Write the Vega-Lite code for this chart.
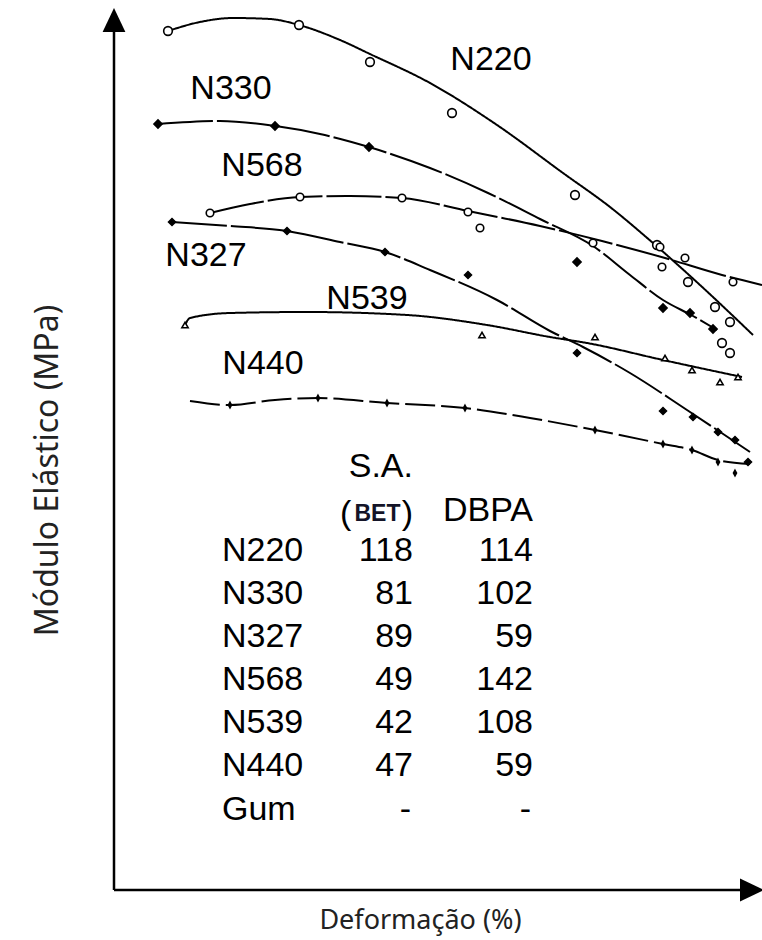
{
  "$schema": "https://vega.github.io/schema/vega-lite/v6.json",
  "width": 640,
  "height": 882,
  "autosize": "none",
  "padding": {"left": 114, "top": 8, "right": 8, "bottom": 50},
  "background": "white",
  "config": {"view": {"stroke": null}, "font": "Liberation Sans"},
  "resolve": {"scale": {"shape": "independent", "size": "independent", "fill": "independent", "strokeDash": "independent"}},
  "datasets": {
    "eixos": [
      {"deformacao": 0, "modulo": 0, "deformacao2": 0, "modulo2": 85.8},
      {"deformacao": 0, "modulo": 0, "deformacao2": 62.8, "modulo2": 0}
    ],
    "setas": [
      {"deformacao": 0, "modulo": 87, "direcao": "cima"},
      {"deformacao": 63.8, "modulo": 0, "direcao": "direita"}
    ],
    "curvas": [
      {"serie": "N220", "deformacao": 5.4, "modulo": 85.9},
      {"serie": "N220", "deformacao": 8.6, "modulo": 86.8},
      {"serie": "N220", "deformacao": 11.9, "modulo": 87.2},
      {"serie": "N220", "deformacao": 15.6, "modulo": 87.1},
      {"serie": "N220", "deformacao": 18.5, "modulo": 86.5},
      {"serie": "N220", "deformacao": 22.6, "modulo": 85.0},
      {"serie": "N220", "deformacao": 25.6, "modulo": 83.6},
      {"serie": "N220", "deformacao": 31.6, "modulo": 80.7},
      {"serie": "N220", "deformacao": 38.3, "modulo": 76.5},
      {"serie": "N220", "deformacao": 44.9, "modulo": 71.7},
      {"serie": "N220", "deformacao": 49.6, "modulo": 68.3},
      {"serie": "N220", "deformacao": 53.9, "modulo": 64.7},
      {"serie": "N220", "deformacao": 58.6, "modulo": 60.5},
      {"serie": "N220", "deformacao": 63.9, "modulo": 55.5},
      {"serie": "N330", "deformacao": 4.4, "modulo": 76.6},
      {"serie": "N330", "deformacao": 10.6, "modulo": 76.9},
      {"serie": "N330", "deformacao": 16.1, "modulo": 76.4},
      {"serie": "N330", "deformacao": 20.6, "modulo": 75.6},
      {"serie": "N330", "deformacao": 25.5, "modulo": 74.3},
      {"serie": "N330", "deformacao": 31.6, "modulo": 72.2},
      {"serie": "N330", "deformacao": 37.4, "modulo": 69.7},
      {"serie": "N330", "deformacao": 42.6, "modulo": 67.1},
      {"serie": "N330", "deformacao": 47.9, "modulo": 64.4},
      {"serie": "N330", "deformacao": 51.6, "modulo": 61.5},
      {"serie": "N330", "deformacao": 54.9, "modulo": 59.0},
      {"serie": "N330", "deformacao": 57.9, "modulo": 57.4},
      {"serie": "N330", "deformacao": 60.3, "modulo": 56.0},
      {"serie": "N568", "deformacao": 9.6, "modulo": 67.7},
      {"serie": "N568", "deformacao": 13.6, "modulo": 68.6},
      {"serie": "N568", "deformacao": 18.6, "modulo": 69.3},
      {"serie": "N568", "deformacao": 23.6, "modulo": 69.4},
      {"serie": "N568", "deformacao": 28.8, "modulo": 69.2},
      {"serie": "N568", "deformacao": 35.4, "modulo": 67.9},
      {"serie": "N568", "deformacao": 42.6, "modulo": 66.4},
      {"serie": "N568", "deformacao": 48.8, "modulo": 64.9},
      {"serie": "N568", "deformacao": 55.1, "modulo": 63.2},
      {"serie": "N568", "deformacao": 60.8, "modulo": 61.5},
      {"serie": "N568", "deformacao": 64.8, "modulo": 60.5},
      {"serie": "N327", "deformacao": 5.8, "modulo": 66.8},
      {"serie": "N327", "deformacao": 11.6, "modulo": 66.4},
      {"serie": "N327", "deformacao": 17.3, "modulo": 65.9},
      {"serie": "N327", "deformacao": 22.6, "modulo": 64.8},
      {"serie": "N327", "deformacao": 27.1, "modulo": 63.8},
      {"serie": "N327", "deformacao": 31.6, "modulo": 62.0},
      {"serie": "N327", "deformacao": 38.3, "modulo": 59.0},
      {"serie": "N327", "deformacao": 43.6, "modulo": 55.9},
      {"serie": "N327", "deformacao": 46.9, "modulo": 54.3},
      {"serie": "N327", "deformacao": 51.6, "modulo": 51.7},
      {"serie": "N327", "deformacao": 57.3, "modulo": 48.0},
      {"serie": "N327", "deformacao": 63.6, "modulo": 43.8},
      {"serie": "N539", "deformacao": 7.1, "modulo": 56.5},
      {"serie": "N539", "deformacao": 7.6, "modulo": 57.2},
      {"serie": "N539", "deformacao": 11.6, "modulo": 57.7},
      {"serie": "N539", "deformacao": 19.3, "modulo": 57.8},
      {"serie": "N539", "deformacao": 29.3, "modulo": 57.5},
      {"serie": "N539", "deformacao": 37.3, "modulo": 56.5},
      {"serie": "N539", "deformacao": 43.6, "modulo": 55.3},
      {"serie": "N539", "deformacao": 47.3, "modulo": 54.7},
      {"serie": "N539", "deformacao": 54.9, "modulo": 53.0},
      {"serie": "N539", "deformacao": 62.8, "modulo": 51.3},
      {"serie": "N440", "deformacao": 7.6, "modulo": 48.9},
      {"serie": "N440", "deformacao": 11.6, "modulo": 48.5},
      {"serie": "N440", "deformacao": 16.1, "modulo": 49.0},
      {"serie": "N440", "deformacao": 20.4, "modulo": 49.2},
      {"serie": "N440", "deformacao": 27.3, "modulo": 48.7},
      {"serie": "N440", "deformacao": 35.1, "modulo": 48.2},
      {"serie": "N440", "deformacao": 41.6, "modulo": 47.2},
      {"serie": "N440", "deformacao": 48.1, "modulo": 46.0},
      {"serie": "N440", "deformacao": 54.9, "modulo": 44.6},
      {"serie": "N440", "deformacao": 57.8, "modulo": 44.0},
      {"serie": "N440", "deformacao": 60.4, "modulo": 43.0},
      {"serie": "N440", "deformacao": 63.6, "modulo": 42.6}
    ],
    "pontos": [
      {"serie": "N220", "deformacao": 5.4, "modulo": 85.9},
      {"serie": "N220", "deformacao": 18.5, "modulo": 86.5},
      {"serie": "N220", "deformacao": 25.6, "modulo": 82.8},
      {"serie": "N220", "deformacao": 33.8, "modulo": 77.7},
      {"serie": "N220", "deformacao": 46.1, "modulo": 69.5},
      {"serie": "N220", "deformacao": 54.3, "modulo": 64.5},
      {"serie": "N220", "deformacao": 57.4, "modulo": 60.8},
      {"serie": "N220", "deformacao": 60.1, "modulo": 58.3},
      {"serie": "N220", "deformacao": 61.6, "modulo": 56.8},
      {"serie": "N220", "deformacao": 60.8, "modulo": 54.7},
      {"serie": "N220", "deformacao": 61.6, "modulo": 53.7},
      {"serie": "N330", "deformacao": 4.4, "modulo": 76.6},
      {"serie": "N330", "deformacao": 16.1, "modulo": 76.4},
      {"serie": "N330", "deformacao": 25.5, "modulo": 74.3},
      {"serie": "N330", "deformacao": 46.3, "modulo": 62.8},
      {"serie": "N330", "deformacao": 54.9, "modulo": 58.2},
      {"serie": "N330", "deformacao": 57.6, "modulo": 57.7},
      {"serie": "N330", "deformacao": 59.9, "modulo": 56.1},
      {"serie": "N568", "deformacao": 9.6, "modulo": 67.7},
      {"serie": "N568", "deformacao": 18.6, "modulo": 69.3},
      {"serie": "N568", "deformacao": 28.8, "modulo": 69.2},
      {"serie": "N568", "deformacao": 35.4, "modulo": 67.8},
      {"serie": "N568", "deformacao": 36.6, "modulo": 66.2},
      {"serie": "N568", "deformacao": 47.9, "modulo": 64.7},
      {"serie": "N568", "deformacao": 54.6, "modulo": 64.3},
      {"serie": "N568", "deformacao": 54.8, "modulo": 62.3},
      {"serie": "N568", "deformacao": 57.1, "modulo": 63.2},
      {"serie": "N568", "deformacao": 61.9, "modulo": 60.8},
      {"serie": "N327", "deformacao": 5.8, "modulo": 66.8},
      {"serie": "N327", "deformacao": 17.3, "modulo": 65.9},
      {"serie": "N327", "deformacao": 27.1, "modulo": 63.8},
      {"serie": "N327", "deformacao": 35.4, "modulo": 61.5},
      {"serie": "N327", "deformacao": 46.3, "modulo": 53.7},
      {"serie": "N327", "deformacao": 54.9, "modulo": 47.9},
      {"serie": "N327", "deformacao": 57.9, "modulo": 47.3},
      {"serie": "N327", "deformacao": 60.4, "modulo": 45.8},
      {"serie": "N327", "deformacao": 62.1, "modulo": 45.0},
      {"serie": "N327", "deformacao": 63.4, "modulo": 42.8},
      {"serie": "N539", "deformacao": 7.1, "modulo": 56.5},
      {"serie": "N539", "deformacao": 36.8, "modulo": 55.5},
      {"serie": "N539", "deformacao": 48.1, "modulo": 55.3},
      {"serie": "N539", "deformacao": 55.1, "modulo": 53.2},
      {"serie": "N539", "deformacao": 57.8, "modulo": 52.0},
      {"serie": "N539", "deformacao": 60.6, "modulo": 50.8},
      {"serie": "N539", "deformacao": 62.4, "modulo": 51.3},
      {"serie": "N440", "deformacao": 11.6, "modulo": 48.5},
      {"serie": "N440", "deformacao": 20.4, "modulo": 49.2},
      {"serie": "N440", "deformacao": 27.3, "modulo": 48.7},
      {"serie": "N440", "deformacao": 35.1, "modulo": 48.2},
      {"serie": "N440", "deformacao": 48.1, "modulo": 46.0},
      {"serie": "N440", "deformacao": 54.9, "modulo": 44.6},
      {"serie": "N440", "deformacao": 57.8, "modulo": 44.0},
      {"serie": "N440", "deformacao": 60.4, "modulo": 42.8},
      {"serie": "N440", "deformacao": 62.1, "modulo": 41.7}
    ],
    "rotulos": [
      {"texto": "N220", "deformacao": 37.7, "modulo": 83.0},
      {"texto": "N330", "deformacao": 11.7, "modulo": 80.1},
      {"texto": "N568", "deformacao": 14.8, "modulo": 72.4},
      {"texto": "N327", "deformacao": 9.2, "modulo": 63.4},
      {"texto": "N539", "deformacao": 25.3, "modulo": 59.1},
      {"texto": "N440", "deformacao": 14.9, "modulo": 52.6}
    ],
    "tabela": [
      {"coluna": "amostra", "texto": "N220", "deformacao": 10.8, "modulo": 33.9},
      {"coluna": "amostra", "texto": "N330", "deformacao": 10.8, "modulo": 29.6},
      {"coluna": "amostra", "texto": "N327", "deformacao": 10.8, "modulo": 25.3},
      {"coluna": "amostra", "texto": "N568", "deformacao": 10.8, "modulo": 21.0},
      {"coluna": "amostra", "texto": "N539", "deformacao": 10.8, "modulo": 16.7},
      {"coluna": "amostra", "texto": "N440", "deformacao": 10.8, "modulo": 12.4},
      {"coluna": "amostra", "texto": "Gum", "deformacao": 10.8, "modulo": 8.0},
      {"coluna": "S.A.", "texto": "S.A.", "deformacao": 29.9, "modulo": 42.3},
      {"coluna": "S.A.", "texto": "118", "deformacao": 29.9, "modulo": 33.9},
      {"coluna": "S.A.", "texto": "81", "deformacao": 29.9, "modulo": 29.6},
      {"coluna": "S.A.", "texto": "89", "deformacao": 29.9, "modulo": 25.3},
      {"coluna": "S.A.", "texto": "49", "deformacao": 29.9, "modulo": 21.0},
      {"coluna": "S.A.", "texto": "42", "deformacao": 29.9, "modulo": 16.7},
      {"coluna": "S.A.", "texto": "47", "deformacao": 29.9, "modulo": 12.4},
      {"coluna": "S.A.", "texto": "-", "deformacao": 29.7, "modulo": 8.0},
      {"coluna": "DBPA", "texto": "DBPA", "deformacao": 41.9, "modulo": 37.9},
      {"coluna": "DBPA", "texto": "114", "deformacao": 41.9, "modulo": 33.9},
      {"coluna": "DBPA", "texto": "102", "deformacao": 41.9, "modulo": 29.6},
      {"coluna": "DBPA", "texto": "59", "deformacao": 41.9, "modulo": 25.3},
      {"coluna": "DBPA", "texto": "142", "deformacao": 41.9, "modulo": 21.0},
      {"coluna": "DBPA", "texto": "108", "deformacao": 41.9, "modulo": 16.7},
      {"coluna": "DBPA", "texto": "59", "deformacao": 41.9, "modulo": 12.4},
      {"coluna": "DBPA", "texto": "-", "deformacao": 41.7, "modulo": 8.0}
    ],
    "bet": [
      {"parte": "abre", "texto": "(", "deformacao": 22.6, "modulo": 37.6},
      {"parte": "sigla", "texto": "BET", "deformacao": 26.35, "modulo": 37.6},
      {"parte": "fecha", "texto": ")", "deformacao": 29.9, "modulo": 37.6}
    ]
  },
  "encoding": {
    "x": {
      "field": "deformacao",
      "type": "quantitative",
      "scale": {"domain": [0, 64], "nice": false, "zero": false},
      "axis": {
        "title": "Deformação (%)",
        "domain": false, "ticks": false, "labels": false, "grid": false,
        "titleFont": "Noto Sans", "titleFontSize": 27, "titleFontWeight": "normal",
        "titleColor": "#222222", "titleX": 306, "titleY": 38,
        "titleBaseline": "alphabetic", "titleAlign": "center"
      }
    },
    "y": {
      "field": "modulo",
      "type": "quantitative",
      "scale": {"domain": [0, 88.2], "nice": false, "zero": false},
      "axis": {
        "title": "Módulo Elástico (MPa)",
        "domain": false, "ticks": false, "labels": false, "grid": false,
        "titleFont": "Noto Sans", "titleFontSize": 32, "titleFontWeight": "normal",
        "titleColor": "#222222", "titleAngle": -90, "titleX": -57, "titleY": 462,
        "titleBaseline": "alphabetic", "titleAlign": "center"
      }
    }
  },
  "layer": [
    {
      "data": {"name": "eixos"},
      "mark": {"type": "rule", "color": "black", "strokeWidth": 2.5},
      "encoding": {
        "x2": {"field": "deformacao2"},
        "y2": {"field": "modulo2"}
      }
    },
    {
      "data": {"name": "setas"},
      "mark": {"type": "point", "filled": true, "color": "black", "size": 576, "opacity": 1},
      "encoding": {
        "shape": {
          "field": "direcao", "type": "nominal",
          "scale": {"domain": ["cima", "direita"], "range": ["M0,-1L-0.95,1L0.95,1Z", "M1,0L-1,-0.95L-1,0.95Z"]},
          "legend": null
        }
      }
    },
    {
      "data": {"name": "curvas"},
      "mark": {"type": "line", "color": "black", "strokeWidth": 2, "interpolate": "monotone", "clip": false},
      "encoding": {
        "strokeDash": {
          "field": "serie", "type": "nominal",
          "scale": {"domain": ["N220", "N330", "N568", "N327", "N539", "N440"], "range": [[1, 0], [55, 4], [55, 4], [55, 4], [1, 0], [30, 6]]},
          "legend": null
        },
        "order": {"field": "deformacao", "type": "quantitative"}
      }
    },
    {
      "data": {"name": "pontos"},
      "mark": {"type": "point", "filled": true, "stroke": "black", "strokeWidth": 1.6, "opacity": 1, "clip": false},
      "encoding": {
        "shape": {
          "field": "serie", "type": "nominal",
          "scale": {"domain": ["N220", "N330", "N568", "N327", "N539", "N440"], "range": ["circle", "diamond", "circle", "diamond", "triangle-up", "M0,-1L0.55,0L0,1L-0.55,0Z"]},
          "legend": null
        },
        "fill": {
          "field": "serie", "type": "nominal",
          "scale": {"domain": ["N220", "N330", "N568", "N327", "N539", "N440"], "range": ["white", "black", "white", "black", "white", "black"]},
          "legend": null
        },
        "size": {
          "field": "serie", "type": "nominal",
          "scale": {"domain": ["N220", "N330", "N568", "N327", "N539", "N440"], "range": [75, 30, 75, 30, 95, 225]},
          "legend": null
        }
      }
    },
    {
      "data": {"name": "rotulos"},
      "mark": {"type": "text", "font": "Liberation Sans", "fontSize": 34, "align": "center", "baseline": "middle", "color": "black"},
      "encoding": {"text": {"field": "texto"}}
    },
    {
      "data": {"name": "tabela"},
      "transform": [{"filter": "datum.coluna === 'amostra'"}],
      "mark": {"type": "text", "font": "Liberation Sans", "fontSize": 34, "align": "left", "baseline": "middle", "color": "black"},
      "encoding": {"text": {"field": "texto"}}
    },
    {
      "data": {"name": "tabela"},
      "transform": [{"filter": "datum.coluna !== 'amostra'"}],
      "mark": {"type": "text", "font": "Liberation Sans", "fontSize": 34, "align": "right", "baseline": "middle", "color": "black"},
      "encoding": {"text": {"field": "texto"}}
    },
    {
      "data": {"name": "bet"},
      "transform": [{"filter": "datum.parte === 'abre'"}],
      "mark": {"type": "text", "font": "Liberation Sans", "fontSize": 34, "align": "left", "baseline": "middle", "color": "black"},
      "encoding": {"text": {"field": "texto"}}
    },
    {
      "data": {"name": "bet"},
      "transform": [{"filter": "datum.parte === 'fecha'"}],
      "mark": {"type": "text", "font": "Liberation Sans", "fontSize": 34, "align": "right", "baseline": "middle", "color": "black"},
      "encoding": {"text": {"field": "texto"}}
    },
    {
      "data": {"name": "bet"},
      "transform": [{"filter": "datum.parte === 'sigla'"}],
      "mark": {"type": "text", "font": "Liberation Sans", "fontSize": 23, "fontWeight": "bold", "align": "center", "baseline": "middle", "color": "#141428"},
      "encoding": {"text": {"field": "texto"}}
    }
  ]
}
